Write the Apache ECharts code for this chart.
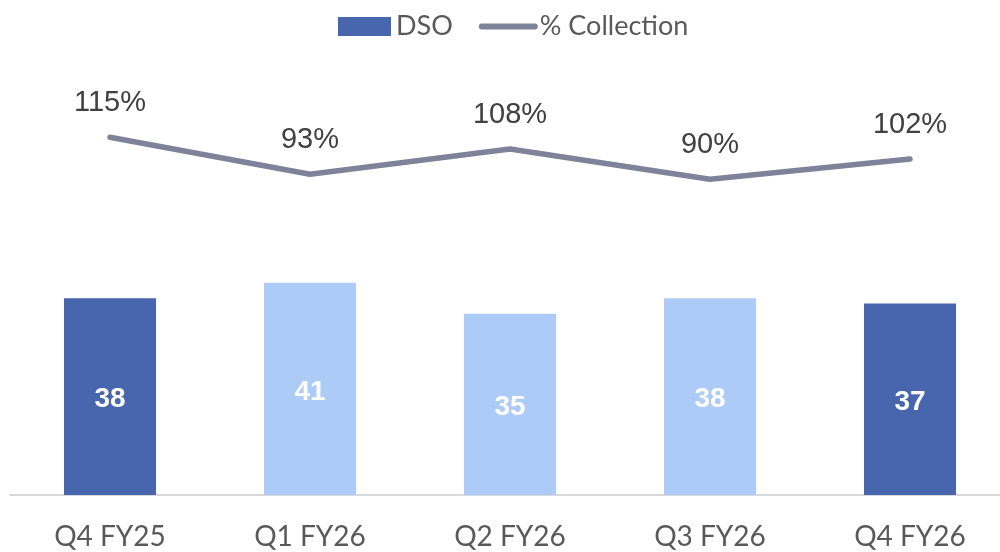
<!DOCTYPE html>
<html>
<head>
<meta charset="utf-8">
<script src="https://cdn.jsdelivr.net/npm/echarts@6/dist/echarts.min.js"></script>
<style>
    html, body { margin: 0; padding: 0; background: #fff; }
    #chart { width: 1000px; height: 552px; }
</style>
</head>
<body>
<div id="chart"></div>
<script>
    // chart data
    const categories = ['Q4 FY25', 'Q1 FY26', 'Q2 FY26', 'Q3 FY26', 'Q4 FY26'];
    const dsoValues = [38, 41, 35, 38, 37];
    const collectionValues = [115, 93, 108, 90, 102];
    const darkBar = [true, false, false, false, true];

    const DARK = '#4866AD';
    const LIGHT = '#ADCBF7';
    const LINE = '#7F8399';

    let myChart = echarts.init(document.getElementById('chart'));
    myChart.setOption({
        animation: false,
        legend: {
            top: 8,
            left: 333,
            itemWidth: 53,
            itemHeight: 19,
            itemGap: 26,
            textStyle: { fontFamily: 'Lato', fontSize: 27, color: '#595959' },
            data: [
                { name: 'DSO', icon: 'rect' },
                { name: '% Collection', itemStyle: { opacity: 0 }, lineStyle: { width: 6, cap: 'round', color: LINE } }
            ]
        },
        grid: { left: 10, width: 1000, top: 60, bottom: 57, outerBoundsMode: 'none' },
        xAxis: {
            type: 'category',
            data: categories,
            axisTick: { show: false },
            axisLine: { lineStyle: { color: '#D9D9D9', width: 2 } },
            axisLabel: { fontFamily: 'Lato', fontSize: 28, color: '#595959', margin: 28 }
        },
        yAxis: [
            { type: 'value', min: 0, max: 84, show: false, splitLine: { show: false } },
            { type: 'value', min: -98, max: 161, show: false, splitLine: { show: false } }
        ],
        series: [
            {
                name: 'DSO',
                type: 'bar',
                barWidth: 92,
                itemStyle: { color: DARK },
                data: dsoValues.map((v, i) => ({
                    value: v,
                    itemStyle: { color: darkBar[i] ? DARK : LIGHT }
                })),
                label: {
                    show: true,
                    position: 'inside',
                    offset: [0, 3],
                    color: '#fff',
                    fontFamily: 'Liberation Sans',
                    fontWeight: 'bold',
                    fontSize: 28
                }
            },
            {
                name: '% Collection',
                type: 'line',
                yAxisIndex: 1,
                data: collectionValues,
                symbol: 'circle',
                symbolSize: 2,
                itemStyle: { color: LINE },
                lineStyle: { color: LINE, width: 5.5, cap: 'round' },
                label: {
                    show: true,
                    position: 'top',
                    distance: 19,
                    formatter: '{c}%',
                    color: '#404040',
                    fontFamily: 'Liberation Sans',
                    fontSize: 29
                }
            }
        ]
    });
</script>
</body>
</html>
